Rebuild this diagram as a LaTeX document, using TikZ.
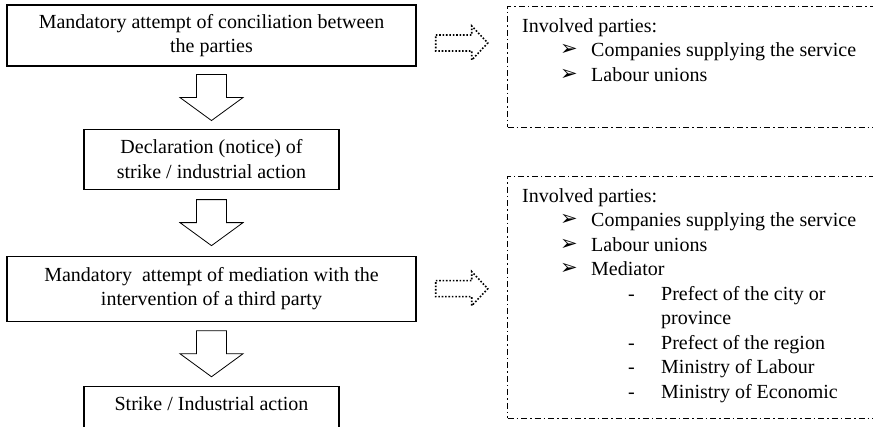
\documentclass[tikz,border=0pt]{standalone}
\usepackage{fontspec}
\setmainfont{Liberation Serif}
\newfontfamily\symfont{DejaVu Sans}
\usetikzlibrary{positioning,calc}

% list marks of the two "involved parties" boxes
\newcommand{\bul}{\hspace*{38pt}\makebox[31pt][l]{\raisebox{1pt}{\symfont\fontsize{21}{21}\selectfont ➢}}}
\newcommand{\subdash}{\hspace*{106pt}\makebox[33pt][l]{-}}

% hollow arrow pointing down, between two boxes
\newcommand{\downblock}[2]{%
  \draw[blockarrow] let \p1=(#1.south), \p2=(#2.north), \n1={(\y1+\y2)/2} in
    ({\x1-15pt},{\n1+23pt}) -- ({\x1+15pt},{\n1+23pt}) -- ({\x1+15pt},{\n1+0pt})
    -- ({\x1+31.5pt},{\n1+0pt}) -- (\x1,{\n1-23pt}) -- ({\x1-31.5pt},{\n1+0pt})
    -- ({\x1-15pt},{\n1+0pt}) -- cycle;}

% dotted hollow arrow pointing right, optional downward shift
\newcommand{\dotblock}[3][0pt]{%
  \draw[dotarrow] let \p1=(#2.east), \p2=(#3.west), \n1={(\x1+\x2)/2}, \n2={\y1-#1} in
    ({\n1-26pt},{\n2+8pt}) -- ({\n1+10pt},{\n2+8pt}) -- ({\n1+10pt},{\n2+17pt})
    -- ({\n1+26pt},{\n2+0pt}) -- ({\n1+10pt},{\n2-17pt}) -- ({\n1+10pt},{\n2-8pt})
    -- ({\n1-26pt},{\n2-8pt}) -- cycle;}

\begin{document}
\begin{tikzpicture}[x=1pt, y=-1pt, font=\fontsize{20}{24.5}\selectfont,
  stepbox/.style={draw, rectangle, line width=1.1pt, align=center, inner sep=0pt},
  wide/.style={minimum width=409pt, minimum height=61pt},
  narrow/.style={minimum width=255pt, minimum height=60pt},
  blockarrow/.style={line width=0.8pt},
  dotarrow/.style={line width=1.6pt, dash pattern=on 1.6pt off 1.8pt},
  partybox/.style={draw, dash pattern=on 6pt off 3pt on 1.5pt off 3pt, line width=1pt,
    minimum width=380pt, anchor=north west, inner sep=0pt},
  partytext/.style={align=left, anchor=north west, inner sep=0pt}]

\useasboundingbox (0,0) rectangle (873,427);
\clip (0,0) rectangle (873,427);

\node (concil) [stepbox, wide] at (211.5,35.5) {Mandatory attempt of conciliation between\\the parties};
\node (notice) [stepbox, narrow, below=62pt of concil] {Declaration (notice) of\\strike / industrial action};
\node (mediat) [stepbox, wide, minimum height=65pt, below=66pt of notice] {Mandatory~ attempt of mediation with the\\intervention of a third party};
\node (strike) [stepbox, narrow, below=64pt of mediat] {Strike / Industrial action\\\mbox{}};

\downblock{concil}{notice}
\downblock{notice}{mediat}
\downblock{mediat}{strike}

\node (partiesA) [partybox, minimum height=121pt] at (507,6) {};
\node (partiesB) [partybox, minimum height=242pt] at (507,176) {};

\node (listA) [partytext] at (522,18) {Involved parties:\\
  \bul Companies supplying the service\\
  \bul Labour unions};
\node (listB) [partytext] at (522,188) {Involved parties:\\
  \bul Companies supplying the service\\
  \bul Labour unions\\
  \bul Mediator\\
  \subdash Prefect of the city or\\
  \hspace*{139pt}province\\
  \subdash Prefect of the region\\
  \subdash Ministry of Labour\\
  \subdash Ministry of Economic};

\dotblock[7.5pt]{concil}{partiesA}
\dotblock{mediat}{partiesB}

\end{tikzpicture}
\end{document}
